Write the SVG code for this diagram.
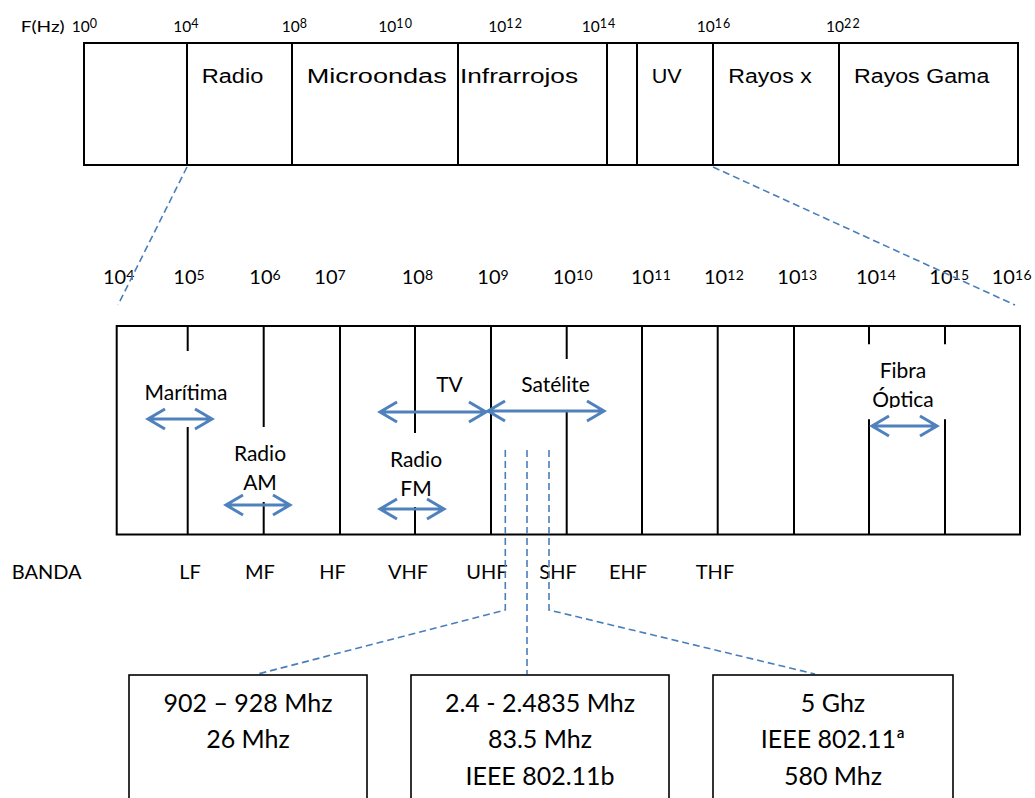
<svg xmlns="http://www.w3.org/2000/svg" width="1035" height="798" viewBox="0 0 1035 798">
<style>
.box{fill:none;stroke:#000;stroke-width:2}
.ln{stroke:#000;stroke-width:2}
.bx{fill:#fff;stroke:#000;stroke-width:1.6}
.dash{fill:none;stroke:#4A7EBB;stroke-width:1.6;stroke-dasharray:7 4}
.arr{fill:none;stroke:#4F81BD;stroke-width:3}
.t{font-family:Lato,"Open Sans",sans-serif;fill:#000}
.a{font-family:"Liberation Sans",Arial,sans-serif;font-size:20px;fill:#000}
.s1{font-size:15.5px}
.s2{font-size:20px}
.sp1{font-size:12.5px;letter-spacing:1.2px}
.sp2{font-size:14px;letter-spacing:0.4px}
.in{font-size:21px;text-anchor:middle}
.bd{font-size:20px;text-anchor:middle}
.bt{font-size:25px;text-anchor:middle}
</style>
<defs>
<clipPath id="clipOptica"><rect x="850" y="330" width="110" height="78"/></clipPath>
</defs>
<rect width="1035" height="798" fill="#fff"/>

<g id="scale-top" class="t s1">
<text x="20.7" y="31.7" font-size="16" textLength="44" lengthAdjust="spacingAndGlyphs">F(Hz)</text>
<text x="71.7" y="31.7">10<tspan class="sp1" dy="-3.5">0</tspan></text>
<text x="173.3" y="31.7">10<tspan class="sp1" dy="-3.5">4</tspan></text>
<text x="281.7" y="31.7">10<tspan class="sp1" dy="-3.5">8</tspan></text>
<text x="378.3" y="31.7">10<tspan class="sp1" dy="-3.5">10</tspan></text>
<text x="488.3" y="31.7">10<tspan class="sp1" dy="-3.5">12</tspan></text>
<text x="581.7" y="31.7">10<tspan class="sp1" dy="-3.5">14</tspan></text>
<text x="696.7" y="31.7">10<tspan class="sp1" dy="-3.5">16</tspan></text>
<text x="826" y="31.7">10<tspan class="sp1" dy="-3.5">22</tspan></text>
</g>

<g id="spectrum">
<rect class="box" x="84" y="43" width="934" height="122"/>
<line class="ln" x1="187" y1="43" x2="187" y2="165"/>
<line class="ln" x1="292" y1="43" x2="292" y2="165"/>
<line class="ln" x1="458" y1="43" x2="458" y2="165"/>
<line class="ln" x1="607" y1="43" x2="607" y2="165"/>
<line class="ln" x1="637" y1="43" x2="637" y2="165"/>
<line class="ln" x1="713" y1="43" x2="713" y2="165"/>
<line class="ln" x1="839" y1="43" x2="839" y2="165"/>
<text class="a" x="201.7" y="83" textLength="61.7" lengthAdjust="spacingAndGlyphs">Radio</text>
<text class="a" x="306.7" y="83" textLength="140" lengthAdjust="spacingAndGlyphs">Microondas</text>
<text class="a" x="460" y="83" textLength="118" lengthAdjust="spacingAndGlyphs">Infrarrojos</text>
<text class="a" x="651.7" y="83" textLength="30" lengthAdjust="spacingAndGlyphs">UV</text>
<text class="a" x="728.3" y="83" textLength="83.4" lengthAdjust="spacingAndGlyphs">Rayos x</text>
<text class="a" x="854" y="83" textLength="135.3" lengthAdjust="spacingAndGlyphs">Rayos Gama</text>
</g>

<g id="scale-radio" class="t s2">
<text x="103" y="284">10<tspan class="sp2" dy="-4.5">4</tspan></text>
<text x="173.3" y="284">10<tspan class="sp2" dy="-4.5">5</tspan></text>
<text x="249.3" y="284">10<tspan class="sp2" dy="-4.5">6</tspan></text>
<text x="314.3" y="284">10<tspan class="sp2" dy="-4.5">7</tspan></text>
<text x="401.7" y="284">10<tspan class="sp2" dy="-4.5">8</tspan></text>
<text x="477.3" y="284">10<tspan class="sp2" dy="-4.5">9</tspan></text>
<text x="552.7" y="284">10<tspan class="sp2" dy="-4.5">10</tspan></text>
<text x="631" y="284">10<tspan class="sp2" dy="-4.5">11</tspan></text>
<text x="704" y="284">10<tspan class="sp2" dy="-4.5">12</tspan></text>
<text x="777.3" y="284">10<tspan class="sp2" dy="-4.5">13</tspan></text>
<text x="856" y="284">10<tspan class="sp2" dy="-4.5">14</tspan></text>
<text x="929.3" y="284">10<tspan class="sp2" dy="-4.5">15</tspan></text>
<text x="991.7" y="284">10<tspan class="sp2" dy="-4.5">16</tspan></text>
</g>

<g id="radio-spectrum">
<rect class="box" x="116.7" y="326" width="903.3" height="208.5"/>
<line class="ln" x1="340" y1="326" x2="340" y2="534.5"/>
<line class="ln" x1="491" y1="326" x2="491" y2="534.5"/>
<line class="ln" x1="642" y1="326" x2="642" y2="534.5"/>
<line class="ln" x1="717.7" y1="326" x2="717.7" y2="534.5"/>
<line class="ln" x1="794" y1="326" x2="794" y2="534.5"/>
<path class="ln" d="M187.7,326V351M187.7,427V534.5"/>
<path class="ln" d="M263.7,326V427M263.7,502V534.5"/>
<path class="ln" d="M415,326V433M415,507V534.5"/>
<path class="ln" d="M566.7,326V359M566.7,412V534.5"/>
<path class="ln" d="M869,326V344.3M869,419.3V534.5"/>
<path class="ln" d="M945,326V344.3M945,419.3V534.5"/>
</g>

<g id="maritima">
<text class="t in" x="186" y="400" font-size="21.5">Marítima</text>
<path class="arr" d="M148,419H212M165,409L148,419L165,429M195,409L212,419L195,429"/>
</g>
<g id="radio-am">
<text class="t in" x="260" y="461" font-size="20.5">Radio</text>
<text class="t in" x="260" y="490" font-size="20.5">AM</text>
<path class="arr" d="M226,505H290M243,495L226,505L243,515M273,495L290,505L273,515"/>
</g>
<g id="tv">
<text class="t in" x="449.5" y="392">TV</text>
<path class="arr" d="M380,412H486M397,402L380,412L397,422M469,402L486,412L469,422"/>
</g>
<g id="radio-fm">
<text class="t in" x="416" y="467" font-size="20.5">Radio</text>
<text class="t in" x="416" y="496" font-size="20.5">FM</text>
<path class="arr" d="M380,509H444M397,499L380,509L397,519M427,499L444,509L427,519"/>
</g>
<g id="satelite">
<text class="t in" x="555.5" y="392">Satélite</text>
<path class="arr" d="M488,411H604M505,401L488,411L505,421M587,401L604,411L587,421"/>
</g>
<g id="fibra">
<text class="t in" x="903" y="378" font-size="20.5">Fibra</text>
<text class="t in" x="903" y="407" font-size="20.5" clip-path="url(#clipOptica)">Óptica</text>
<path class="arr" d="M872,426H937M889,416L872,426L889,436M920,416L937,426L920,436"/>
</g>

<g id="bandas" class="t">
<text x="11.7" y="579" font-size="20">BANDA</text>
<text class="bd" x="190" y="579">LF</text>
<text class="bd" x="260" y="579">MF</text>
<text class="bd" x="332.5" y="579">HF</text>
<text class="bd" x="408" y="579">VHF</text>
<text class="bd" x="487" y="579">UHF</text>
<text class="bd" x="558" y="579">SHF</text>
<text class="bd" x="628" y="579">EHF</text>
<text class="bd" x="715" y="579">THF</text>
</g>

<g id="connectors">
<line class="dash" x1="187" y1="167" x2="118" y2="305"/>
<line class="dash" x1="713" y1="167" x2="1015" y2="305"/>
<polyline class="dash" points="505.3,450 505.3,610 258,674"/>
<polyline class="dash" points="527,450 527,674"/>
<polyline class="dash" points="549,450 549,610 815,674"/>
</g>

<g id="box-900">
<rect class="bx" x="129" y="675" width="238" height="140"/>
<text class="t bt" x="248" y="711.5">902 – 928 Mhz</text>
<text class="t bt" x="248" y="748">26 Mhz</text>
</g>
<g id="box-2400">
<rect class="bx" x="411" y="675" width="258" height="140"/>
<text class="t bt" x="540" y="711.5">2.4 - 2.4835 Mhz</text>
<text class="t bt" x="540" y="748">83.5 Mhz</text>
<text class="t bt" x="540" y="784.5">IEEE 802.11b</text>
</g>
<g id="box-5000">
<rect class="bx" x="713" y="675" width="240" height="140"/>
<text class="t bt" x="833" y="711.5">5 Ghz</text>
<text class="t bt" x="833" y="748">IEEE 802.11ª</text>
<text class="t bt" x="833" y="784.5">580 Mhz</text>
</g>
</svg>
